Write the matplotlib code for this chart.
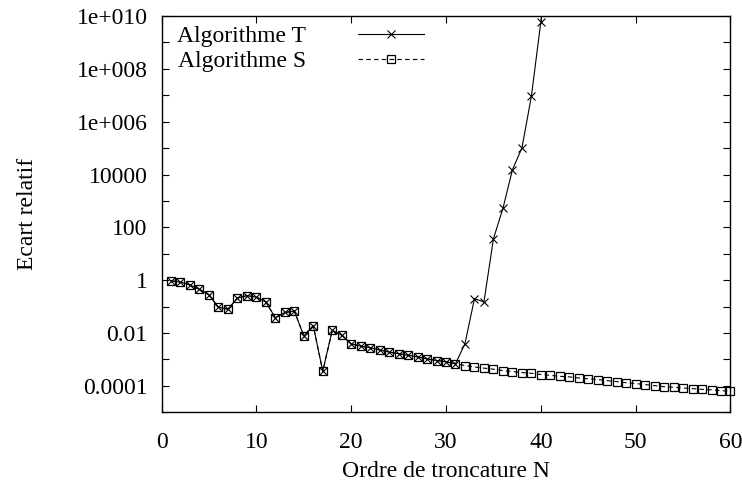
import matplotlib
matplotlib.use('Agg')
import matplotlib.pyplot as plt
import numpy as np
from matplotlib.ticker import FixedLocator, FixedFormatter, NullLocator


# Data
orders_s = list(range(1, 61))
ecart_s = [
    0.95, 0.85, 0.66, 0.45, 0.28, 0.095, 0.08, 0.21, 0.26, 0.23,
    0.15, 0.038, 0.06, 0.068, 0.0079, 0.019, 0.00036, 0.0125, 0.0083, 0.0039,
    0.0032, 0.0028, 0.0023, 0.0019, 0.00166, 0.00145, 0.00126, 0.00105, 0.00091, 0.00082,
    0.00069, 0.00059, 0.00052, 0.00047, 0.00043, 0.00038, 0.00035, 0.00032, 0.00030, 0.00027,
    0.00025, 0.00023, 0.00022, 0.00020, 0.000186, 0.000174, 0.000158, 0.000145, 0.000132, 0.000123,
    0.000112, 0.000102, 0.000093, 0.000089, 0.000083, 0.000079, 0.000074, 0.000071, 0.000066, 0.000063,
]
orders_t = list(range(1, 42))
ecart_t = ecart_s[:31] + [
    0.004, 0.2, 0.15, 37, 520, 1.5e4, 1.0e5, 9e6, 6e9, 1e13,
]

series_names = ['Algorithme T', 'Algorithme S']
ytick_values = [10.0 ** k for k in range(-5, 11)]
ytick_labels = ['', '0.0001', '', '0.01', '', '1', '', '100', '', '10000',
                '', '1e+006', '', '1e+008', '', '1e+010']
xtick_values = [0, 10, 20, 30, 40, 50, 60]

font = ['Liberation Serif', 'DejaVu Serif']
plt.rcParams['font.family'] = font
plt.rcParams['font.size'] = 17

fig = plt.figure(figsize=(7.42, 4.86), dpi=100)
ax = fig.add_axes([0.2177, 0.1516, 0.7668, 0.8155])

ax.plot(orders_t, ecart_t, color='black', linewidth=0.8, marker='x',
        markersize=5.5, markeredgewidth=0.8, label=series_names[0])
ax.plot(orders_s, ecart_s, color='black', linewidth=0.8, dashes=(4, 3),
        marker='s', markersize=6, markerfacecolor='none',
        markeredgewidth=0.9, label=series_names[1], clip_on=False)

ax.set_yscale('log')
ax.set_xlim(0, 60)
ax.set_ylim(1e-5, 1e10)

ax.yaxis.set_major_locator(FixedLocator(ytick_values))
ax.yaxis.set_major_formatter(FixedFormatter(ytick_labels))
ax.yaxis.set_minor_locator(NullLocator())
ax.set_xticks(xtick_values)
ax.set_xticklabels([str(v) for v in xtick_values])

ax.tick_params(which='both', direction='in', top=True, right=True,
               length=5, width=0.8, labelsize=17)
ax.tick_params(axis='y', pad=10)
ax.tick_params(axis='x', pad=14)
for spine in ax.spines.values():
    spine.set_linewidth(1.0)

ax.set_xlabel('Ordre de troncature N', fontsize=17, labelpad=6)
ax.set_ylabel('Ecart relatif', fontsize=17, labelpad=28)

ax.legend(loc='upper left', bbox_to_anchor=(0.027, 0.975), frameon=False,
          markerfirst=False, handlelength=2.8, handletextpad=2.2,
          labelspacing=0.15, borderpad=0, borderaxespad=0, numpoints=1,
          fontsize=17)

fig.savefig('out.png', dpi=100)
